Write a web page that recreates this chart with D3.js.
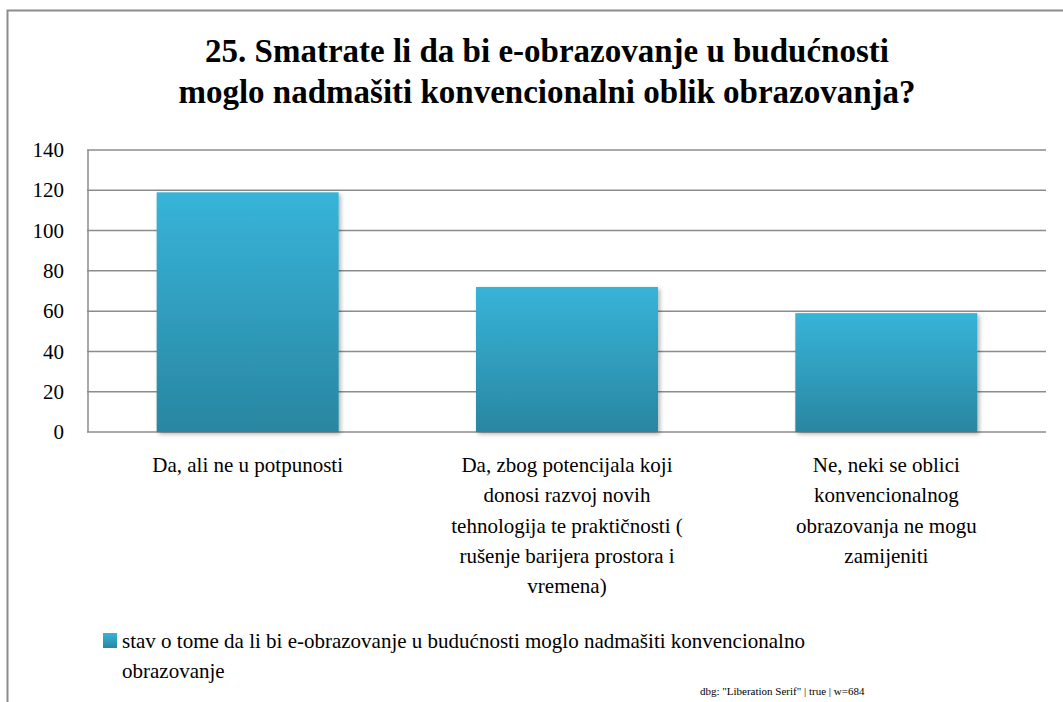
<!DOCTYPE html>
<html>
<head>
<meta charset="UTF-8">
<script src="https://cdn.jsdelivr.net/npm/d3@7/dist/d3.min.js"></script>
</head>
<body style="margin:0">
<svg id="s" width="1063" height="702"></svg>
<script>
const titleLines = [
  "25. Smatrate li da bi e-obrazovanje u budućnosti",
  "moglo nadmašiti konvencionalni oblik obrazovanja?",
];
const categories = [
  ["Da, ali ne u potpunosti"],
  ["Da, zbog potencijala koji", "donosi razvoj novih", "tehnologija te praktičnosti (", "rušenje barijera prostora i", "vremena)"],
  ["Ne, neki se oblici", "konvencionalnog", "obrazovanja ne mogu", "zamijeniti"],
];
const values = [119, 72, 59];
const yTicks = [0, 20, 40, 60, 80, 100, 120, 140];
const legendLines = [
  "stav o tome da li bi e-obrazovanje u budućnosti moglo nadmašiti konvencionalno",
  "obrazovanje",
];

const SERIF = "Liberation Serif";
const width = 1063, height = 702;
const svg = d3.select("#s");

// gradient + sjena
const defs = svg.append("defs");
const grad = defs.append("linearGradient").attr("id", "barGrad")
  .attr("x1", 0).attr("y1", 0).attr("x2", 0).attr("y2", 1);
grad.append("stop").attr("offset", "0%").attr("stop-color", "#37b4d9");
grad.append("stop").attr("offset", "100%").attr("stop-color", "#2986a1");
defs.append("filter").attr("id", "shadow")
  .attr("x", "-10%").attr("y", "-10%").attr("width", "130%").attr("height", "130%")
  .append("feDropShadow")
  .attr("dx", 2).attr("dy", 2).attr("stdDeviation", 2)
  .attr("flood-color", "#000").attr("flood-opacity", 0.3);

// okvir
svg.append("path")
  .attr("d", `M7.5,${height} V10.5 H${width}`)
  .attr("fill", "none").attr("stroke", "#8c8c8c").attr("stroke-width", 2);

// naslov
svg.selectAll("text.title").data(titleLines).join("text")
  .attr("class", "title")
  .attr("x", 547).attr("y", (d, i) => 62 + i * 41)
  .attr("text-anchor", "middle")
  .style("font-family", SERIF)
  .attr("font-size", "33px")
  .attr("font-weight", "bold")
  .text(d => d);

const plotLeft = 88, plotRight = 1046, plotTop = 150, plotBottom = 432;

const x = d3.scaleBand().domain(d3.range(categories.length))
  .range([plotLeft, plotRight]).paddingInner(0.43).paddingOuter(0.215);
const y = d3.scaleLinear().domain([0, 140]).range([plotBottom, plotTop]);

// mreža
svg.selectAll("line.grid").data(yTicks).join("line")
  .attr("class", "grid")
  .attr("x1", plotLeft - 1).attr("x2", plotRight)
  .attr("y1", d => y(d)).attr("y2", d => y(d))
  .attr("stroke", "#8c8c8c").attr("stroke-width", 1.5);
svg.append("line")
  .attr("x1", plotLeft).attr("x2", plotLeft).attr("y1", plotTop).attr("y2", plotBottom)
  .attr("stroke", "#8c8c8c").attr("stroke-width", 1.5);

// y oznake
svg.selectAll("text.ytick").data(yTicks).join("text")
  .attr("class", "ytick")
  .attr("x", plotLeft - 24).attr("y", d => y(d)).attr("dy", "0.34em")
  .attr("text-anchor", "end")
  .style("font-family", SERIF)
  .attr("font-size", "21px")
  .text(d => d);

// stupci
svg.selectAll("rect.bar").data(values).join("rect")
  .attr("class", "bar")
  .attr("x", (d, i) => x(i)).attr("width", x.bandwidth())
  .attr("y", d => y(d)).attr("height", d => y(0) - y(d))
  .attr("fill", "url(#barGrad)").attr("filter", "url(#shadow)");

// kategorije
const catLines = categories.flatMap((lines, i) => lines.map((t, j) => ({ t, i, j })));
svg.selectAll("text.cat").data(catLines).join("text")
  .attr("class", "cat")
  .attr("x", d => x(d.i) + x.bandwidth() / 2)
  .attr("y", d => 472 + d.j * 30.3)
  .attr("text-anchor", "middle")
  .style("font-family", SERIF)
  .attr("font-size", "21px")
  .text(d => d.t);

// legenda
svg.append("rect")
  .attr("x", 103).attr("y", 633).attr("width", 14).attr("height", 15)
  .attr("fill", "url(#barGrad)");
svg.selectAll("text.leg").data(legendLines).join("text")
  .attr("class", "leg")
  .attr("x", 122).attr("y", (d, i) => 648 + i * 30)
  .style("font-family", SERIF)
  .attr("font-size", "21px")
  .text(d => d);

// privremena provjera fonta
const t0 = document.querySelector("text.title");
svg.append("text").attr("x", 700).attr("y", 695).attr("font-size", "11px")
  .text("dbg: " + getComputedStyle(t0).fontFamily + " | " + document.fonts.check("12px 'Liberation Serif'") + " | w=" + Math.round(t0.getComputedTextLength()));
</script>
</body>
</html>
